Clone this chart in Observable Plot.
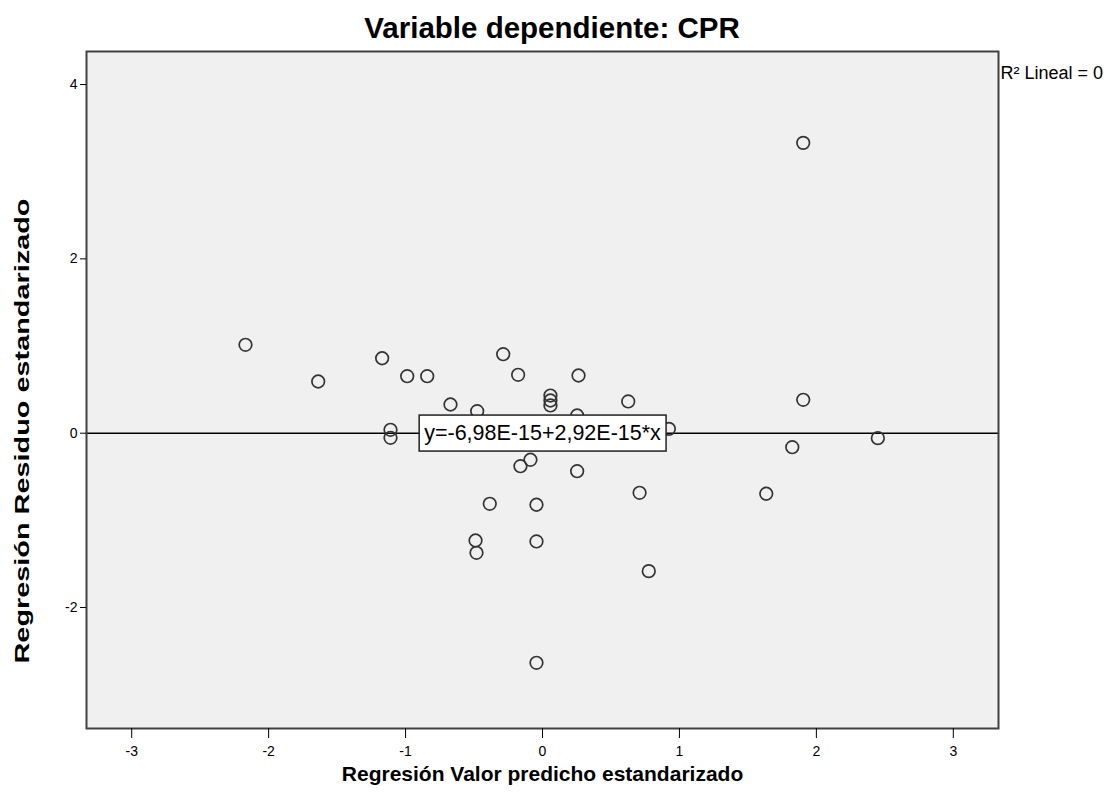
<!DOCTYPE html>
<html><head><meta charset="utf-8">
<script src="https://cdn.jsdelivr.net/npm/d3@7"></script>
<script src="https://cdn.jsdelivr.net/npm/@observablehq/plot@0.6"></script>
<style>
body{margin:0;background:#fff;font-family:"Liberation Sans",Arial,sans-serif;}
#title{height:45px;line-height:55px;width:1104px;text-align:center;font-size:29.5px;font-weight:bold;color:#000;white-space:nowrap;}
#chart svg{display:block;}
</style></head><body>
<div id="title">Variable dependiente: CPR</div>
<div id="chart"></div>
<script>
// Standardized predicted values (x) and standardized residuals (y)
const predicted = [-2.169,-1.638,-1.171,-0.988,-0.842,-1.110,-1.110,-0.672,-0.477,-0.287,-0.178,0.058,0.058,0.058,0.263,0.626,0.253,0.923,-0.161,-0.088,0.253,0.709,-0.385,-0.044,-0.489,-0.482,-0.044,0.776,-0.044,1.904,1.824,2.449,1.634,1.904];
const residuals = [1.014,0.593,0.860,0.654,0.654,0.039,-0.053,0.329,0.252,0.906,0.670,0.432,0.375,0.318,0.662,0.364,0.203,0.050,-0.379,-0.305,-0.436,-0.684,-0.810,-0.821,-1.231,-1.372,-1.242,-1.583,-2.634,0.383,-0.161,-0.057,-0.695,3.331];
const xTicks = [-3,-2,-1,0,1,2,3];
const yTicks = [-2,0,2,4];
const xDomain = [-3.33,3.33];
const yDomain = [-3.388,4.379];
const intercept = -6.98e-15;
const slope = 2.92e-15;
const fitLabel = "y=-6,98E-15+2,92E-15*x";
const r2Label = "R² Lineal = 0";
const xLabel = "Regresión Valor predicho estandarizado";
const yLabel = "Regresión Residuo estandarizado";

const points = predicted.map((x,i)=>({x, y: residuals[i]}));
const fitLine = xDomain.map(x=>({x, y: intercept + slope*x}));
const mid = (xDomain[0]+xDomain[1])/2;
const labelPos = [{x: mid, y: intercept + slope*mid, t: fitLabel}];
const fmt = d => String(d).replace("\u2212","-");

const chart = Plot.plot({
  width:1115, height:764,
  marginTop:6, marginLeft:86, marginRight:117, marginBottom:81,
  style:{fontFamily:"Liberation Sans, Arial, sans-serif", fontSize:"14px", background:"white", color:"#000"},
  x:{domain:xDomain},
  y:{domain:yDomain},
  marks:[
    Plot.frame({fill:"#f0f0f0"}),
    Plot.line(fitLine,{x:"x",y:"y",stroke:"#000",strokeWidth:1.5}),
    Plot.dot(points,{x:"x",y:"y",r:6.3,stroke:"#333",strokeWidth:1.7,fill:"none"}),
    Plot.text(labelPos,{x:"x",y:"y",text:"t",fontSize:21.5,fill:"#000",className:"fitlabel"}),
    Plot.frame({stroke:"#404040",strokeWidth:2}),
    Plot.axisX({ticks:xTicks,tickSize:10,label:null,tickFormat:()=>""}),
    Plot.axisY({ticks:yTicks,tickSize:6,label:null,tickFormat:()=>""}),
    Plot.text(xTicks,{x:d=>d,text:fmt,frameAnchor:"bottom",lineAnchor:"top",dy:18,fontSize:14,fill:"#000"}),
    Plot.text(yTicks,{y:d=>d,text:fmt,frameAnchor:"left",textAnchor:"end",dx:-9,fontSize:14,fill:"#000"}),
    Plot.text([xLabel],{frameAnchor:"bottom",dy:52,fontSize:21,fontWeight:"bold",fill:"#000"}),
    Plot.text([yLabel],{frameAnchor:"left",textAnchor:"middle",dx:-64,dy:41,rotate:-90,fontSize:21,fontWeight:"bold",fill:"#000",className:"ylabel"}),
    Plot.text([r2Label],{frameAnchor:"top-right",textAnchor:"start",dx:2,dy:15,fontSize:18,fill:"#000"})
  ]
});
document.getElementById("chart").appendChild(chart);
// stretch the y-axis title to the length seen in the reference
d3.select(chart).selectAll(".ylabel text")
  .attr("textLength", 465).attr("lengthAdjust", "spacingAndGlyphs");
// white box behind the fit-line label
d3.select(chart).selectAll(".fitlabel text").each(function(){
  const b = this.getBBox();
  d3.select(this.parentNode).insert("rect", () => this)
    .attr("x", b.x-5).attr("y", b.y-6).attr("width", b.width+10).attr("height", b.height+12)
    .attr("fill","white").attr("stroke","#222").attr("stroke-width",1.5)
    .attr("transform", this.getAttribute("transform"));
});
</script>
</body></html>
